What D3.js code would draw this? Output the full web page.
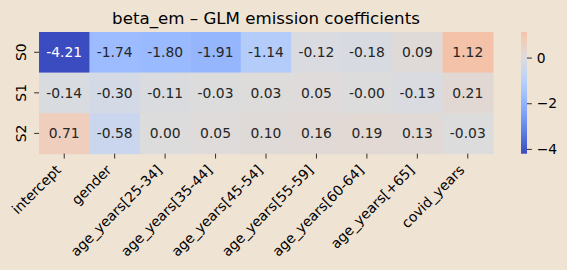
<!DOCTYPE html>
<html>
<head>
<meta charset="utf-8">
<script src="https://cdn.jsdelivr.net/npm/d3@7"></script>
<style>
  html, body { margin: 0; padding: 0; background: #efe3d3; }
  svg { display: block; font-family: "DejaVu Sans", sans-serif; }
</style>
</head>
<body>
<div id="chart"></div>
<script>
// data
var features = ["intercept", "gender", "age_years[25-34]", "age_years[35-44]", "age_years[45-54]",
                "age_years[55-59]", "age_years[60-64]", "age_years[+65]", "covid_years"];
var states = ["S0", "S1", "S2"];
var s0 = [-4.21, -1.74, -1.80, -1.91, -1.14, -0.12, -0.18, 0.09, 1.12];
var s1 = [-0.14, -0.30, -0.11, -0.03, 0.03, 0.05, -0.004, -0.13, 0.21];
var s2 = [0.71, -0.58, 0.00, 0.05, 0.10, 0.16, 0.19, 0.13, -0.03];
var cbar_ticks = [0, -2, -4];
var title = "beta_em \u2013 GLM emission coefficients";

// matplotlib coolwarm sampled at 0, .1, ... 1
var coolwarm = ["#3b4cc0", "#5977e3", "#7b9ff9", "#9ebeff", "#c0d4f5", "#dddcdc",
                "#f2cbb7", "#f7ac8e", "#ee8468", "#d65244", "#b40426"];

var width = 567, height = 270;
var fs = 13.89;          // 10pt at 100 dpi
var tick_len = 4.86, tick_pad = 4.86;
// careful: "top" is a reserved window global
var ax_left = 39, ax_right = 493, ax_top = 32, ax_bottom = 153.7;

var rows = [s0, s1, s2];
var cells = [];
rows.forEach(function(r, i) {
    r.forEach(function(v, j) {
        cells.push({row: states[i], col: features[j], value: v});
    });
});

var all = [].concat(s0, s1, s2);
var vmin = d3.min(all), vmax = d3.max(all);
var vrange = Math.max(Math.abs(vmin), Math.abs(vmax));  // centred at 0 like seaborn

var cmap = d3.scaleLinear()
    .domain(d3.range(coolwarm.length).map(function(i) { return i / (coolwarm.length - 1); }))
    .range(coolwarm)
    .interpolate(d3.interpolateRgb);
function colorOf(v) {
    return cmap(0.5 + v / (2 * vrange));
}

var x = d3.scaleBand().domain(features).range([ax_left, ax_right]);
var y = d3.scaleBand().domain(states).range([ax_top, ax_bottom]);

var svg = d3.select('#chart').append('svg')
    .attr('width', width)
    .attr('height', height);

svg.append('rect').attr('width', width).attr('height', height).attr('fill', '#efe3d3');

// cells
svg.append('g').selectAll('rect')
    .data(cells)
  .enter()
    .append('rect')
    .attr('x', function(d) { return x(d.col); })
    .attr('y', function(d) { return y(d.row); })
    .attr('width', x.bandwidth() + 0.5)
    .attr('height', y.bandwidth() + 0.5)
    .attr('fill', function(d) { return colorOf(d.value); });

// annotations, white on dark cells
function textColor(v) {
    var c = d3.rgb(colorOf(v));
    var lin = [c.r, c.g, c.b].map(function(u) {
        u = u / 255;
        return u <= 0.03928 ? u / 12.92 : Math.pow((u + 0.055) / 1.055, 2.4);
    });
    var lum = 0.2126 * lin[0] + 0.7152 * lin[1] + 0.0722 * lin[2];
    return lum > 0.408 ? '#262626' : '#ffffff';
}
svg.append('g').selectAll('text')
    .data(cells)
  .enter()
    .append('text')
    .attr('x', function(d) { return x(d.col) + x.bandwidth() / 2; })
    .attr('y', function(d) { return y(d.row) + y.bandwidth() / 2; })
    .attr('dy', '0.36em')
    .attr('text-anchor', 'middle')
    .attr('font-size', fs)
    .attr('fill', function(d) { return textColor(d.value); })
    .text(function(d) { return d.value.toFixed(2); });

// x axis
var xAxis = svg.append('g')
    .attr('transform', 'translate(0,' + ax_bottom + ')')
    .call(d3.axisBottom(x).tickSize(tick_len).tickSizeOuter(0));
xAxis.select('.domain').remove();
xAxis.selectAll('line').attr('stroke', '#000').attr('stroke-width', 0.8);
xAxis.selectAll('text')
    .attr('font-size', fs)
    .attr('font-family', 'DejaVu Sans')
    .attr('fill', '#000')
    .attr('text-anchor', 'end')
    .attr('y', 0).attr('dy', 0)
    .attr('transform', 'translate(' + (-0.707 * 0.24 * fs) + ',' + (tick_len + tick_pad + 0.707 * 0.76 * fs) + ') rotate(-45)');

// y axis
var yAxis = svg.append('g')
    .attr('transform', 'translate(' + ax_left + ',0)')
    .call(d3.axisLeft(y).tickSize(tick_len).tickSizeOuter(0));
yAxis.select('.domain').remove();
yAxis.selectAll('line').attr('stroke', '#000').attr('stroke-width', 0.8);
yAxis.selectAll('text')
    .attr('font-size', fs)
    .attr('font-family', 'DejaVu Sans')
    .attr('fill', '#000')
    .attr('text-anchor', 'middle')
    .attr('x', 0).attr('dy', 0)
    .attr('transform', 'translate(' + (-tick_len - tick_pad - 0.24 * fs) + ',0) rotate(-90)');

// title
svg.append('text')
    .attr('x', (ax_left + ax_right) / 2)
    .attr('y', ax_top - 8.33)
    .attr('text-anchor', 'middle')
    .attr('font-size', 16.67)
    .attr('fill', '#000')
    .text(title);

// colorbar
var cb_left = 521, cb_w = 6;
var cy = d3.scaleLinear().domain([vmin, vmax]).range([ax_bottom, ax_top]);
var grad = svg.append('defs').append('linearGradient')
    .attr('id', 'cbgrad')
    .attr('x1', 0).attr('y1', 1).attr('x2', 0).attr('y2', 0);
d3.range(0, 1.0001, 0.05).forEach(function(t) {
    grad.append('stop')
        .attr('offset', t)
        .attr('stop-color', colorOf(vmin + t * (vmax - vmin)));
});
svg.append('rect')
    .attr('x', cb_left)
    .attr('y', ax_top)
    .attr('width', cb_w)
    .attr('height', ax_bottom - ax_top)
    .attr('fill', 'url(#cbgrad)');

var cAxis = svg.append('g')
    .attr('transform', 'translate(' + (cb_left + cb_w) + ',0)')
    .call(d3.axisRight(cy).tickValues(cbar_ticks).tickSize(tick_len).tickPadding(tick_pad)
        .tickFormat(function(d) { return d < 0 ? '\u2212' + Math.abs(d) : String(d); }));
cAxis.select('.domain').remove();
cAxis.selectAll('line').attr('stroke', '#000').attr('stroke-width', 0.8);
cAxis.selectAll('text')
    .attr('font-size', fs)
    .attr('font-family', 'DejaVu Sans')
    .attr('fill', '#000');
</script>
</body>
</html>
